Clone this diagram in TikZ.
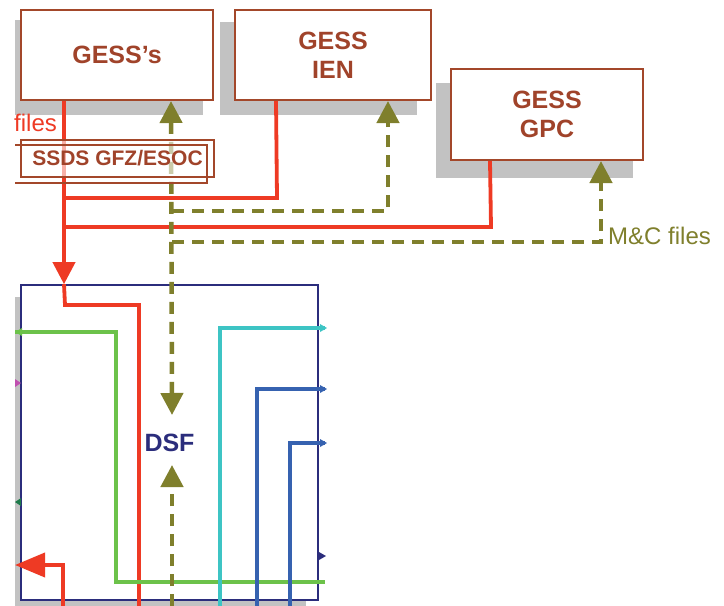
\documentclass[tikz,border=0pt]{standalone}
\usepackage{fontspec}
\setmainfont{Liberation Sans}
\usetikzlibrary{arrows.meta,calc}

\definecolor{boxbrown}{HTML}{A3472A}
\definecolor{txtbrown}{HTML}{A0432A}
\definecolor{lnred}{HTML}{EE3A24}
\definecolor{mcolive}{HTML}{7F7F2C}
\definecolor{dsfnavy}{HTML}{2B2D7C}
\definecolor{shadowgray}{HTML}{C2C2C2}
\definecolor{lngreen}{HTML}{6CC24A}
\definecolor{lncyan}{HTML}{3DC4C4}
\definecolor{lnblue}{HTML}{3662B0}
\definecolor{mkmagenta}{HTML}{C050B0}
\definecolor{mkgreen}{HTML}{1E7A4A}

\tikzset{
  mctip/.tip={Triangle[length=22pt,width=22pt]},
  redhead/.tip={Triangle[length=22pt,width=22pt]},
  bighead/.tip={Triangle[length=30pt,width=24pt]},
}

\begin{document}
\begin{tikzpicture}[x=1pt,y=-1pt,
  gessbox/.style={draw=boxbrown, line width=2pt, fill=white, text=txtbrown,
    font=\fontsize{25}{29}\selectfont\bfseries, align=center, inner sep=0pt},
  dsfbox/.style={draw=dsfnavy, line width=1.6pt, fill=white, text=dsfnavy,
    font=\fontsize{25}{29}\selectfont\bfseries, inner sep=0pt},
  shade/.style={fill=shadowgray},
  redln/.style={draw=lnred, line width=3.8pt},
  mcln/.style={draw=mcolive, line width=4.5pt, dash pattern=on 12pt off 8pt},
  flowln/.style={line width=3.5pt},
]
\useasboundingbox (0,0) rectangle (724,606);

% drop shadows behind the boxes
\fill[shade] (15,20) rectangle (203,115);
\fill[shade] (220,22) rectangle (417,115);
\fill[shade] (436,83) rectangle (633,178);
\fill[shade] (15,297) rectangle (306,606);

% DSF box
\node[dsfbox, minimum width=297pt, minimum height=315pt] (dsf) at (169.5,442.5) {DSF};

% ground stations
\node[gessbox, minimum width=192pt, minimum height=90pt] (gess) at (117,55) {GESS's};
\node[gessbox, minimum width=196pt, minimum height=90pt] (ien) at (333,55) {GESS\\IEN};
\node[gessbox, minimum width=192pt, minimum height=91pt] (gpc) at (547,114.5) {GESS\\GPC};

% attachment points on the box edges
\coordinate (gessout) at ($(gess.south west)+(44,0)$);
\coordinate (gessin)  at ($(gess.south west)+(151,0)$);
\coordinate (ienout)  at ($(ien.south west)+(42,0)$);
\coordinate (ienin)   at ($(ien.south west)+(154,0)$);
\coordinate (gpcout)  at ($(gpc.south west)+(40,0)$);
\coordinate (gpcin)   at ($(gpc.south west)+(151,0)$);

% data files into the DSF (red)
\draw[redln] (ienout) -- (277,198) -- (gessout |- 0,198);
\draw[redln] (gpcout) -- (491,227) -- (gessout |- 0,227);
\draw[redln, -redhead] (gessout) -- (gessout |- dsf.north);

% lines leaving the bottom of the picture
\coordinate (redbot)  at (139,606);
\coordinate (retbot)  at (63,606);
\coordinate (mcbot)   at (172,606);
\coordinate (cyanbot) at (220,606);
\coordinate (bl1bot)  at (257,606);
\coordinate (bl2bot)  at (290,606);
\coordinate (redret)  at (15,565);
\coordinate (grnin)   at (15,332);
\coordinate (grnout)  at (325,582);
\coordinate (cyanin)  at (325,328);
\coordinate (bl1in)   at (325,389);
\coordinate (bl2in)   at (325,443);

\draw[redln] (gessout |- dsf.north) -- (65,305) -- (139,305) -- (redbot);
\draw[redln, -bighead] (retbot) -- (63,565) -- (redret);

% other flows through the DSF
\draw[flowln, draw=lngreen] (grnin) -- (116,332) -- (116,582) -- (grnout);
\draw[flowln, draw=lncyan] (cyanin) -- (220,328) -- (cyanbot);
\draw[flowln, draw=lnblue] (bl1in) -- (257,389) -- (bl1bot);
\draw[flowln, draw=lnblue] (bl2in) -- (290,443) -- (bl2bot);

% small arrow ends on the DSF edges
\fill[lngreen] (15,332) -- (22,328) -- (22,336) -- cycle;
\fill[mkmagenta] (21,383) -- (15,379) -- (15,387) -- cycle;
\fill[mkgreen] (15,502) -- (21,498) -- (21,506) -- cycle;
\fill[lncyan] (327,328) -- (320,324) -- (320,332) -- cycle;
\fill[lnblue] (327,389) -- (320,385) -- (320,393) -- cycle;
\fill[lnblue] (327,443) -- (320,439) -- (320,447) -- cycle;
\fill[dsfnavy] (326,556) -- (319,552) -- (319,560) -- cycle;

% monitoring and control files (olive, dashed)
\coordinate (dsftop) at (172,415);
\coordinate (dsfbot) at (172,465);
\draw[mcln, mctip-mctip] (gessin) -- (dsftop);
\draw[mcln, -mctip] (172,211) -| (ienin);
\draw[mcln, -mctip] (172,242) -| (gpcin);
\draw[mcln, -mctip] (mcbot) -- (dsfbot);

\node[anchor=west, text=mcolive, font=\fontsize{24}{27}\selectfont, inner sep=0pt] (mclabel) at (608,236) {M\&C files};
\node[anchor=west, text=lnred, font=\fontsize{24}{27}\selectfont, inner sep=0pt] (fileslabel) at (14,123) {files};

% SSDS box (two overlapping frames)
\fill[white, opacity=0.6] (21,140) rectangle (214,177);
\draw[boxbrown, line width=1.8pt] (15,145) -- (207,145) -- (207,183) -- (15,183);
\node[draw=boxbrown, line width=1.8pt, minimum width=193pt, minimum height=37pt, inner sep=0pt,
  text=txtbrown, font=\fontsize{21}{24}\selectfont\bfseries] (ssds) at (117.5,158.5) {SSDS GFZ/ESOC};
\end{tikzpicture}
\end{document}
